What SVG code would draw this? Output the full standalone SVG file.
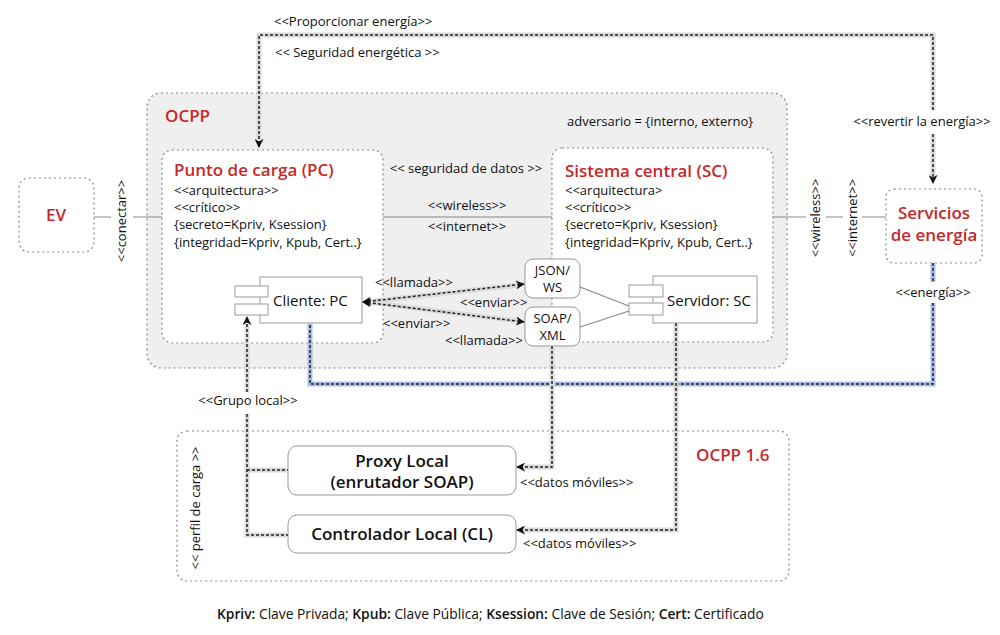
<svg xmlns="http://www.w3.org/2000/svg" width="1000" height="635" viewBox="0 0 1000 635">
<defs>
<marker id="ah" viewBox="0 0 10 10" refX="9" refY="5" markerWidth="9" markerHeight="9" markerUnits="userSpaceOnUse" orient="auto-start-reverse">
<path d="M0,0 L10,5 L0,10 L3,5 z" fill="#111"/>
</marker>
<style>
text{font-family:"Open Sans","Noto Sans","DejaVu Sans",sans-serif;fill:#111;}
.s{font-size:13px;}
.t{font-size:17px;font-weight:600;fill:#c62828;}
.m{font-size:15px;}
.b{font-size:17px;font-weight:600;}
.box{fill:#fff;stroke:#888;stroke-width:1.2;stroke-dasharray:2 3;}
.cont{fill:#efefef;stroke:#888;stroke-width:1.2;stroke-dasharray:2 3;}
.comp{fill:#fff;stroke:#999;stroke-width:1;}
.rbox{fill:#fff;stroke:#999;stroke-width:1;}
.halo{fill:none;stroke:#dadada;stroke-width:5;}
.bhalo{fill:none;stroke:#a9bde8;stroke-width:5;}
.dash{fill:none;stroke:#222;stroke-width:1.5;stroke-dasharray:3 2;}
.ln{fill:none;stroke:#888;stroke-width:1.2;}
</style>
</defs>
<rect width="1000" height="635" fill="#fff"/>

<g id="ocpp">
<rect class="cont" x="147" y="93" width="640" height="275" rx="14"/>
<text class="t" x="165" y="122">OCPP</text>
<text class="s" x="567" y="126">adversario = {interno, externo}</text>
</g>

<g id="ocpp16">
<rect class="box" x="177" y="431" width="612" height="150" rx="10"/>
<text class="t" x="696" y="461">OCPP 1.6</text>
<text class="s" transform="translate(200,508) rotate(-90)" text-anchor="middle">&lt;&lt; perfil de carga &gt;&gt;</text>
</g>

<g id="ev">
<rect class="box" x="19" y="178" width="75" height="74" rx="10"/>
<text class="t" x="56" y="221" text-anchor="middle">EV</text>
</g>

<g id="servicios">
<rect class="box" x="886" y="189" width="96" height="74" rx="8"/>
<text class="t" x="934" y="219" text-anchor="middle">Servicios</text>
<text class="t" x="934" y="241" text-anchor="middle">de energía</text>
</g>

<g id="pc">
<rect class="box" x="162" y="150" width="221" height="193" rx="10"/>
<text class="t" x="174" y="176">Punto de carga (PC)</text>
<text class="s" x="174" y="195">&lt;&lt;arquitectura&gt;&gt;</text>
<text class="s" x="174" y="212">&lt;&lt;crítico&gt;&gt;</text>
<text class="s" x="174" y="229">{secreto=Kpriv, Ksession}</text>
<text class="s" x="174" y="247">{integridad=Kpriv, Kpub, Cert..}</text>
</g>

<g id="cliente">
<rect class="comp" x="260" y="277" width="102" height="46"/>
<rect class="comp" x="235" y="286" width="33" height="11"/>
<rect class="comp" x="235" y="304" width="33" height="11"/>
<text class="m" x="273" y="306">Cliente: PC</text>
</g>

<g id="sc">
<rect class="box" x="552" y="148" width="221" height="194" rx="10"/>
<text class="t" x="565" y="177">Sistema central (SC)</text>
<text class="s" x="565" y="195">&lt;&lt;arquitectura&gt;</text>
<text class="s" x="565" y="212">&lt;&lt;crítico&gt;&gt;</text>
<text class="s" x="565" y="229">{secreto=Kpriv, Ksession}</text>
<text class="s" x="565" y="247">{integridad=Kpriv, Kpub, Cert..}</text>
</g>

<g id="servidor">
<rect class="comp" x="653" y="276" width="104" height="47"/>
<rect class="comp" x="629" y="285" width="34" height="12"/>
<rect class="comp" x="629" y="303" width="34" height="12"/>
<text class="m" x="667" y="306">Servidor: SC</text>
</g>

<g id="json">
<rect class="rbox" x="525" y="259" width="55" height="39" rx="8"/>
<text class="s" x="552.5" y="275" text-anchor="middle">JSON/</text>
<text class="s" x="552.5" y="292" text-anchor="middle">WS</text>
</g>

<g id="soap">
<rect class="rbox" x="525" y="307" width="55" height="39" rx="8"/>
<text class="s" x="552.5" y="323" text-anchor="middle">SOAP/</text>
<text class="s" x="552.5" y="340" text-anchor="middle">XML</text>
</g>

<g id="proxy">
<rect class="rbox" x="288" y="446" width="228" height="49" rx="9"/>
<text class="b" x="402" y="467" text-anchor="middle">Proxy Local</text>
<text class="b" x="402" y="488" text-anchor="middle">(enrutador SOAP)</text>
</g>

<g id="cl">
<rect class="rbox" x="288" y="515" width="228" height="38" rx="9"/>
<text class="b" x="402" y="540" text-anchor="middle">Controlador Local (CL)</text>
</g>

<g id="connectors">
<path class="ln" d="M94,217 H111 M133,217 H162"/>
<text class="s" transform="translate(126,221) rotate(-90)" text-anchor="middle">&lt;&lt;conectar&gt;&gt;</text>
<path class="ln" d="M383,217 H552"/>
<text class="s" x="467" y="210" text-anchor="middle">&lt;&lt;wireless&gt;&gt;</text>
<text class="s" x="467" y="231" text-anchor="middle">&lt;&lt;internet&gt;&gt;</text>
<text class="s" x="466" y="173" text-anchor="middle">&lt;&lt; seguridad de datos &gt;&gt;</text>
<path class="ln" d="M773,217 H806 M826,217 H843 M862,217 H886"/>
<text class="s" transform="translate(820,218) rotate(-90)" text-anchor="middle">&lt;&lt;wireless&gt;&gt;</text>
<text class="s" transform="translate(857,218) rotate(-90)" text-anchor="middle">&lt;&lt;internet&gt;&gt;</text>
<path class="ln" d="M580,287 L629,306 M580,327 L629,311"/>

<path class="halo" d="M933,110 V35 H259 V140"/>
<path class="halo" d="M933,134 V176"/>
<path class="dash" d="M933,110 V35 H259 V147" marker-end="url(#ah)"/>
<path class="dash" d="M933,134 V183" marker-end="url(#ah)"/>
<text class="s" x="274" y="26">&lt;&lt;Proporcionar energía&gt;&gt;</text>
<text class="s" x="275" y="57">&lt;&lt; Seguridad energética &gt;&gt;</text>
<text class="s" x="922" y="126" text-anchor="middle">&lt;&lt;revertir la energía&gt;&gt;</text>

<path class="bhalo" d="M933,263 V282"/>
<path class="bhalo" d="M933,303 V384 H310 V323"/>
<path class="dash" d="M933,263 V282 M933,303 V384 H310 V323"/>
<text class="s" x="933" y="297" text-anchor="middle">&lt;&lt;energía&gt;&gt;</text>

<path class="halo" d="M366,302 L518,285 M366,302 L518,321"/>
<path class="dash" d="M363,302 L524,284" marker-start="url(#ah)" marker-end="url(#ah)"/>
<path class="dash" d="M363,302 L524,322" marker-start="url(#ah)" marker-end="url(#ah)"/>
<text class="s" x="375" y="287">&lt;&lt;llamada&gt;&gt;</text>
<text class="s" x="460" y="307">&lt;&lt;enviar&gt;&gt;</text>
<text class="s" x="383" y="328">&lt;&lt;enviar&gt;&gt;</text>
<text class="s" x="445" y="345">&lt;&lt;llamada&gt;&gt;</text>

<path class="halo" d="M247,392 V324 M247,414 V535 H288 M247,470 H288"/>
<path class="dash" d="M247,392 V317" marker-end="url(#ah)"/>
<path class="dash" d="M247,414 V535 H288 M247,470 H288"/>
<text class="s" x="248" y="405" text-anchor="middle">&lt;&lt;Grupo local&gt;&gt;</text>

<path class="halo" d="M552,346 V467 H523"/>
<path class="dash" d="M552,346 V467 H517" marker-end="url(#ah)"/>
<text class="s" x="520" y="487">&lt;&lt;datos móviles&gt;&gt;</text>

<path class="halo" d="M676,323 V530 H523"/>
<path class="dash" d="M676,323 V530 H517" marker-end="url(#ah)"/>
<text class="s" x="523" y="548">&lt;&lt;datos móviles&gt;&gt;</text>
</g>

<g id="footer">
<text x="217" y="619" font-size="13.8"><tspan font-weight="600">Kpriv:</tspan> Clave Privada; <tspan font-weight="600">Kpub:</tspan> Clave Pública; <tspan font-weight="600">Ksession:</tspan> Clave de Sesión; <tspan font-weight="600">Cert:</tspan> Certificado</text>
</g>
</svg>
